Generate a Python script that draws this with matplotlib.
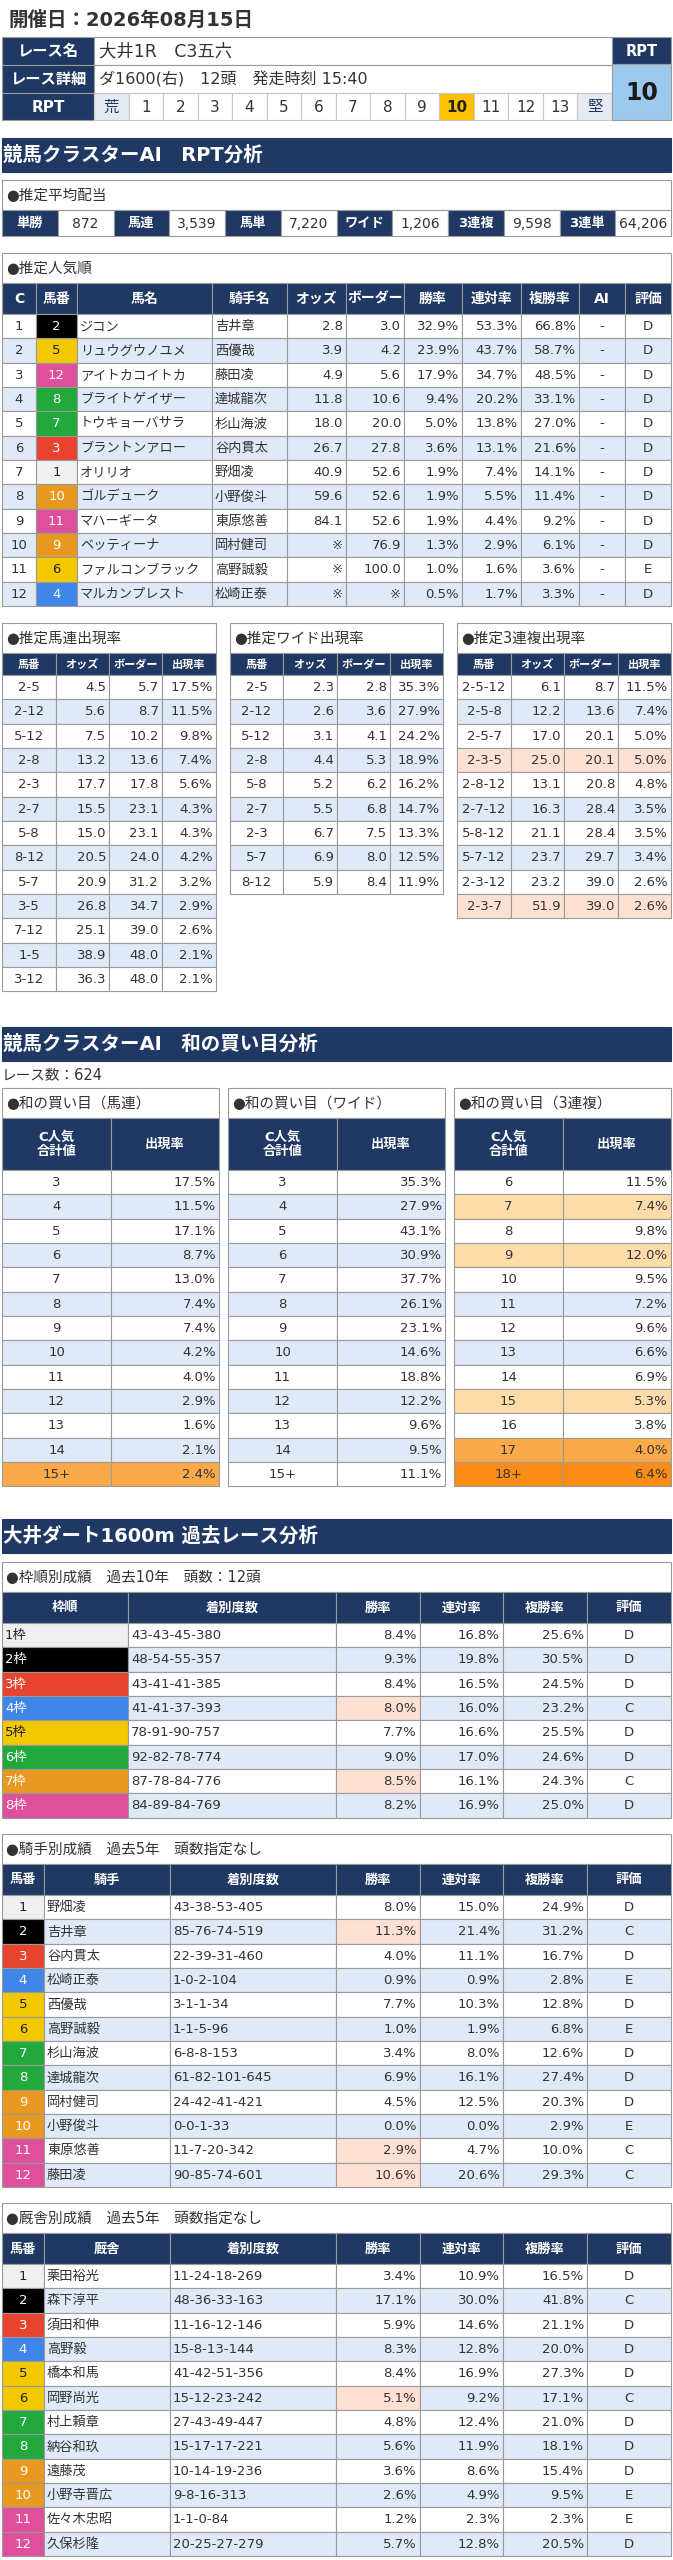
"""
競馬クラスターAI 出走表レポート（大井1R）を matplotlib で再現する。
"""

import matplotlib

matplotlib.use("Agg")
import matplotlib.pyplot as plt
from matplotlib.patches import Rectangle

# 英数字は DejaVu（Verdana 風）、かなと漢字は Noto CJK にまかせる
plt.rcParams["font.family"] = ["DejaVu Sans", "Noto Sans CJK JP"]

# ---------------------------------------------------------------- データ
RACE_DATE = "開催日：2026年08月15日"
RACE_NAME = "大井1R　C3五六"
RACE_DETAIL = "ダ1600(右)　12頭　発走時刻 15:40"
RPT_SCALE = ["荒", "1", "2", "3", "4", "5", "6", "7", "8", "9", "10", "11", "12", "13", "堅"]
RPT_VALUE = 10

PAYOUT_LABELS = ["単勝", "馬連", "馬単", "ワイド", "3連複", "3連単"]
PAYOUT_VALUES = ["872", "3,539", "7,220", "1,206", "9,598", "64,206"]

POP_RANK = list(range(1, 13))
POP_NUM = [2, 5, 12, 8, 7, 3, 1, 10, 11, 9, 6, 4]
POP_HORSE = ["ジコン", "リュウグウノユメ", "アイトカコイトカ", "ブライトゲイザー",
             "トウキョーバサラ", "ブラントンアロー", "オリリオ", "ゴルデューク",
             "マハーギータ", "ベッティーナ", "ファルコンブラック", "マルカンプレスト"]
POP_JOCKEY = ["吉井章", "西優哉", "藤田凌", "達城龍次", "杉山海波", "谷内貫太",
              "野畑凌", "小野俊斗", "東原悠善", "岡村健司", "高野誠毅", "松崎正泰"]
POP_ODDS = ["2.8", "3.9", "4.9", "11.8", "18.0", "26.7", "40.9", "59.6", "84.1", "※", "※", "※"]
POP_BORDER = ["3.0", "4.2", "5.6", "10.6", "20.0", "27.8", "52.6", "52.6", "52.6", "76.9", "100.0", "※"]
POP_WIN = [32.9, 23.9, 17.9, 9.4, 5.0, 3.6, 1.9, 1.9, 1.9, 1.3, 1.0, 0.5]
POP_REN = [53.3, 43.7, 34.7, 20.2, 13.8, 13.1, 7.4, 5.5, 4.4, 2.9, 1.6, 1.7]
POP_FUKU = [66.8, 58.7, 48.5, 33.1, 27.0, 21.6, 14.1, 11.4, 9.2, 6.1, 3.6, 3.3]
POP_GRADE = ["D"] * 10 + ["E", "D"]

UMAREN_KEY = ["2-5", "2-12", "5-12", "2-8", "2-3", "2-7", "5-8", "8-12", "5-7", "3-5", "7-12", "1-5", "3-12"]
UMAREN_ODDS = [4.5, 5.6, 7.5, 13.2, 17.7, 15.5, 15.0, 20.5, 20.9, 26.8, 25.1, 38.9, 36.3]
UMAREN_BORDER = [5.7, 8.7, 10.2, 13.6, 17.8, 23.1, 23.1, 24.0, 31.2, 34.7, 39.0, 48.0, 48.0]
UMAREN_RATE = [17.5, 11.5, 9.8, 7.4, 5.6, 4.3, 4.3, 4.2, 3.2, 2.9, 2.6, 2.1, 2.1]

WIDE_KEY = ["2-5", "2-12", "5-12", "2-8", "5-8", "2-7", "2-3", "5-7", "8-12"]
WIDE_ODDS = [2.3, 2.6, 3.1, 4.4, 5.2, 5.5, 6.7, 6.9, 5.9]
WIDE_BORDER = [2.8, 3.6, 4.1, 5.3, 6.2, 6.8, 7.5, 8.0, 8.4]
WIDE_RATE = [35.3, 27.9, 24.2, 18.9, 16.2, 14.7, 13.3, 12.5, 11.9]

SANREN_KEY = ["2-5-12", "2-5-8", "2-5-7", "2-3-5", "2-8-12", "2-7-12", "5-8-12", "5-7-12", "2-3-12", "2-3-7"]
SANREN_ODDS = [6.1, 12.2, 17.0, 25.0, 13.1, 16.3, 21.1, 23.7, 23.2, 51.9]
SANREN_BORDER = [8.7, 13.6, 20.1, 20.1, 20.8, 28.4, 28.4, 29.7, 39.0, 39.0]
SANREN_RATE = [11.5, 7.4, 5.0, 5.0, 4.8, 3.5, 3.5, 3.4, 2.6, 2.6]
SANREN_MARK = [0, 0, 0, 1, 0, 0, 0, 0, 0, 1]

RACE_COUNT = 624
WA_UMAREN_SUM = ["3", "4", "5", "6", "7", "8", "9", "10", "11", "12", "13", "14", "15+"]
WA_UMAREN_RATE = [17.5, 11.5, 17.1, 8.7, 13.0, 7.4, 7.4, 4.2, 4.0, 2.9, 1.6, 2.1, 2.4]
WA_UMAREN_LV = [0] * 12 + [2]
WA_WIDE_SUM = ["3", "4", "5", "6", "7", "8", "9", "10", "11", "12", "13", "14", "15+"]
WA_WIDE_RATE = [35.3, 27.9, 43.1, 30.9, 37.7, 26.1, 23.1, 14.6, 18.8, 12.2, 9.6, 9.5, 11.1]
WA_WIDE_LV = [0] * 13
WA_SANREN_SUM = ["6", "7", "8", "9", "10", "11", "12", "13", "14", "15", "16", "17", "18+"]
WA_SANREN_RATE = [11.5, 7.4, 9.8, 12.0, 9.5, 7.2, 9.6, 6.6, 6.9, 5.3, 3.8, 4.0, 6.4]
WA_SANREN_LV = [0, 1, 0, 1, 0, 0, 0, 0, 0, 1, 0, 2, 3]

FRAME_LABEL = ["1枠", "2枠", "3枠", "4枠", "5枠", "6枠", "7枠", "8枠"]
FRAME_REC = ["43-43-45-380", "48-54-55-357", "43-41-41-385", "41-41-37-393",
             "78-91-90-757", "92-82-78-774", "87-78-84-776", "84-89-84-769"]
FRAME_WIN = [8.4, 9.3, 8.4, 8.0, 7.7, 9.0, 8.5, 8.2]
FRAME_REN = [16.8, 19.8, 16.5, 16.0, 16.6, 17.0, 16.1, 16.9]
FRAME_FUKU = [25.6, 30.5, 24.5, 23.2, 25.5, 24.6, 24.3, 25.0]
FRAME_GRADE = ["D", "D", "D", "C", "D", "D", "C", "D"]
FRAME_MARK = [0, 0, 0, 1, 0, 0, 1, 0]

JOCKEY = ["野畑凌", "吉井章", "谷内貫太", "松崎正泰", "西優哉", "高野誠毅",
          "杉山海波", "達城龍次", "岡村健司", "小野俊斗", "東原悠善", "藤田凌"]
JOCKEY_REC = ["43-38-53-405", "85-76-74-519", "22-39-31-460", "1-0-2-104", "3-1-1-34",
              "1-1-5-96", "6-8-8-153", "61-82-101-645", "24-42-41-421", "0-0-1-33",
              "11-7-20-342", "90-85-74-601"]
JOCKEY_WIN = [8.0, 11.3, 4.0, 0.9, 7.7, 1.0, 3.4, 6.9, 4.5, 0.0, 2.9, 10.6]
JOCKEY_REN = [15.0, 21.4, 11.1, 0.9, 10.3, 1.9, 8.0, 16.1, 12.5, 0.0, 4.7, 20.6]
JOCKEY_FUKU = [24.9, 31.2, 16.7, 2.8, 12.8, 6.8, 12.6, 27.4, 20.3, 2.9, 10.0, 29.3]
JOCKEY_GRADE = ["D", "C", "D", "E", "D", "E", "D", "D", "D", "E", "C", "C"]
JOCKEY_MARK = [0, 1, 0, 0, 0, 0, 0, 0, 0, 0, 1, 1]

TRAINER = ["栗田裕光", "森下淳平", "須田和伸", "高野毅", "橋本和馬", "岡野尚光",
           "村上頼章", "納谷和玖", "遠藤茂", "小野寺晋広", "佐々木忠昭", "久保杉隆"]
TRAINER_REC = ["11-24-18-269", "48-36-33-163", "11-16-12-146", "15-8-13-144", "41-42-51-356",
               "15-12-23-242", "27-43-49-447", "15-17-17-221", "10-14-19-236", "9-8-16-313",
               "1-1-0-84", "20-25-27-279"]
TRAINER_WIN = [3.4, 17.1, 5.9, 8.3, 8.4, 5.1, 4.8, 5.6, 3.6, 2.6, 1.2, 5.7]
TRAINER_REN = [10.9, 30.0, 14.6, 12.8, 16.9, 9.2, 12.4, 11.9, 8.6, 4.9, 2.3, 12.8]
TRAINER_FUKU = [16.5, 41.8, 21.1, 20.0, 27.3, 17.1, 21.0, 18.1, 15.4, 9.5, 2.3, 20.5]
TRAINER_GRADE = ["D", "C", "D", "D", "D", "C", "D", "D", "D", "E", "E", "D"]
TRAINER_MARK = [0, 0, 0, 0, 0, 1, 0, 0, 0, 0, 0, 0]

# ---------------------------------------------------------------- スタイル
W, H = 673, 2560
NAVY = "#1f3864"
ALT = "#dfe9f8"
GRID = "#9a9a9a"
TXT = "#333333"
SALMON = "#fde0d4"
WA_FC = {0: None, 1: "#fddcaa", 2: "#fbaa4a", 3: "#fb8c15"}
FRAME_FC = {1: "#f0f0f0", 2: "#000000", 3: "#e8432f", 4: "#3f86e8",
            5: "#f2c800", 6: "#22a83c", 7: "#e8981e", 8: "#e0509a"}
FRAME_TC = {1: "#222222", 2: "#ffffff", 3: "#ffffff", 4: "#ffffff",
            5: "#222222", 6: "#ffffff", 7: "#ffffff", 8: "#ffffff"}
ROW_H = 24.33
FS = 9.5


def frame_of(num):
    return num if num <= 4 else 5 + (num - 5) // 2


fig = plt.figure(figsize=(W / 100, H / 100), dpi=100)
ax = fig.add_axes([0, 0, 1, 1])
ax.set_xlim(0, W)
ax.set_ylim(H, 0)
ax.axis("off")


def box(x0, y0, x1, y1, fc, ec=GRID, lw=0.8):
    ax.add_patch(Rectangle((x0, y0), x1 - x0, y1 - y0, facecolor=fc,
                           edgecolor=ec, linewidth=lw))


def put(x0, x1, yc, s, ha="center", color=TXT, size=FS, weight="normal", pad=3):
    x = {"left": x0 + pad, "right": x1 - pad, "center": (x0 + x1) / 2}[ha]
    ax.text(x, yc + 0.5, s, ha=ha, va="center", color=color, fontsize=size,
            fontweight=weight)


def section_bar(y0, y1, title):
    box(2, y0, 671, y1, NAVY, ec=NAVY)
    put(2, 671, (y0 + y1) / 2, title, ha="left", color="white", size=14,
        weight="bold", pad=1)


def table(xs, top, title, headers, rows, aligns, head_h, title_h=30,
          fills=None, tcolors=None, head_fs=9.5, body_fs=FS):
    """xs: 列境界, rows: 文字列の行リスト, fills/tcolors: (r, c) -> 色 or None"""
    box(xs[0], top, xs[-1], top + title_h, "white")
    put(xs[0], xs[-1], top + title_h / 2, title, ha="left", size=10.5, pad=4)
    hy = top + title_h
    for c, h in enumerate(headers):
        box(xs[c], hy, xs[c + 1], hy + head_h, NAVY, ec=GRID)
        put(xs[c], xs[c + 1], hy + head_h / 2, h, color="white", size=head_fs,
            weight="bold")
    y = hy + head_h
    for r, row in enumerate(rows):
        base = "white" if r % 2 == 0 else ALT
        for c, s in enumerate(row):
            fc = fills(r, c) if fills else None
            tc = tcolors(r, c) if tcolors else None
            box(xs[c], y, xs[c + 1], y + ROW_H, fc or base)
            put(xs[c], xs[c + 1], y + ROW_H / 2, s, ha=aligns[c],
                color=tc or TXT, size=body_fs)
        y += ROW_H


def pct(v):
    return f"{v:.1f}%"


# ---------------------------------------------------------------- ヘッダー
put(0, W, 20, RACE_DATE, ha="left", size=14, weight="bold", pad=8)

for y0, y1, lab in [(37, 65, "レース名"), (65, 93, "レース詳細"), (93, 120, "RPT")]:
    box(2, y0, 94, y1, NAVY)
    put(2, 94, (y0 + y1) / 2, lab, color="white", size=11, weight="bold")
box(94, 37, 612, 65, "white")
box(94, 65, 612, 93, "white")
put(94, 612, 51, RACE_NAME, ha="left", size=12.5, pad=5)
put(94, 612, 79, RACE_DETAIL, ha="left", size=11.5, pad=5)

cw = (612 - 94) / len(RPT_SCALE)
for i, s in enumerate(RPT_SCALE):
    x0 = 94 + i * cw
    if s in ("荒", "堅"):
        fc, tc, wt = "#e4e9f2", NAVY, "normal"
    elif s == str(RPT_VALUE):
        fc, tc, wt = "#ffc000", "#222222", "bold"
    else:
        fc, tc, wt = "white", TXT, "normal"
    box(x0, 93, x0 + cw, 120, fc, ec="#c8c8c8")
    put(x0, x0 + cw, 106.5, s, color=tc, size=11, weight=wt)

box(612, 37, 671, 64, NAVY)
put(612, 671, 50.5, "RPT", color="white", size=10.5, weight="bold")
box(612, 64, 671, 120, "#9dc8ee")
put(612, 671, 92, str(RPT_VALUE), color="#1a1a1a", size=17, weight="bold")

# ---------------------------------------------------------------- RPT分析
section_bar(138, 172, "競馬クラスターAI　RPT分析")

box(2, 180, 671, 210, "white")
put(2, 671, 195, "●推定平均配当", ha="left", size=10.5, pad=4)
pw = (671 - 2) / (2 * len(PAYOUT_LABELS))
for i, (lab, val) in enumerate(zip(PAYOUT_LABELS, PAYOUT_VALUES)):
    x0 = 2 + 2 * i * pw
    box(x0, 210, x0 + pw, 236, NAVY)
    put(x0, x0 + pw, 223, lab, color="white", size=9.5, weight="bold")
    box(x0 + pw, 210, x0 + 2 * pw, 236, "white")
    put(x0 + pw, x0 + 2 * pw, 223, val, size=10)

pop_rows = [[str(POP_RANK[i]), str(POP_NUM[i]), POP_HORSE[i], POP_JOCKEY[i],
             POP_ODDS[i], POP_BORDER[i], pct(POP_WIN[i]), pct(POP_REN[i]),
             pct(POP_FUKU[i]), "-", POP_GRADE[i]] for i in range(len(POP_RANK))]
table([2, 36, 77, 212, 287, 346, 404, 462, 521, 579, 625, 671], 253,
      "●推定人気順",
      ["C", "馬番", "馬名", "騎手名", "オッズ", "ボーダー", "勝率", "連対率", "複勝率", "AI", "評価"],
      pop_rows,
      ["center", "center", "left", "left", "right", "right", "right", "right",
       "right", "center", "center"], 31, head_fs=10,
      fills=lambda r, c: FRAME_FC[frame_of(POP_NUM[r])] if c == 1 else None,
      tcolors=lambda r, c: FRAME_TC[frame_of(POP_NUM[r])] if c == 1 else None)

small_head = ["馬番", "オッズ", "ボーダー", "出現率"]
small_align = ["center", "right", "right", "right"]
table([2, 56, 109, 162, 216], 623, "●推定馬連出現率", small_head,
      [[k, f"{o:.1f}", f"{b:.1f}", pct(p)] for k, o, b, p in
       zip(UMAREN_KEY, UMAREN_ODDS, UMAREN_BORDER, UMAREN_RATE)],
      small_align, 22, head_fs=8)
table([230, 283, 337, 390, 443], 623, "●推定ワイド出現率", small_head,
      [[k, f"{o:.1f}", f"{b:.1f}", pct(p)] for k, o, b, p in
       zip(WIDE_KEY, WIDE_ODDS, WIDE_BORDER, WIDE_RATE)],
      small_align, 22, head_fs=8)
table([457, 511, 564, 618, 671], 623, "●推定3連複出現率", small_head,
      [[k, f"{o:.1f}", f"{b:.1f}", pct(p)] for k, o, b, p in
       zip(SANREN_KEY, SANREN_ODDS, SANREN_BORDER, SANREN_RATE)],
      small_align, 22, head_fs=8,
      fills=lambda r, c: SALMON if SANREN_MARK[r] else None)

# ---------------------------------------------------------------- 和の買い目
section_bar(1027, 1061, "競馬クラスターAI　和の買い目分析")
put(0, W, 1074, f"レース数：{RACE_COUNT}", ha="left", size=10.5, pad=2)

wa_sets = [
    ([2, 111, 219], "●和の買い目（馬連）", WA_UMAREN_SUM, WA_UMAREN_RATE, WA_UMAREN_LV),
    ([228, 337, 445], "●和の買い目（ワイド）", WA_WIDE_SUM, WA_WIDE_RATE, WA_WIDE_LV),
    ([454, 563, 671], "●和の買い目（3連複）", WA_SANREN_SUM, WA_SANREN_RATE, WA_SANREN_LV),
]
for xs, ttl, sums, rates, lv in wa_sets:
    table(xs, 1088, ttl, ["C人気\n合計値", "出現率"],
          [[s, pct(v)] for s, v in zip(sums, rates)], ["center", "right"], 52,
          head_fs=9.5, fills=lambda r, c, lv=lv: WA_FC[lv[r]])

# ---------------------------------------------------------------- 過去レース分析
section_bar(1519, 1553, "大井ダート1600m 過去レース分析")

stat_head = ["着別度数", "勝率", "連対率", "複勝率", "評価"]
table([2, 128, 336, 420, 503, 587, 671], 1562, "●枠順別成績　過去10年　頭数：12頭",
      ["枠順"] + stat_head,
      [[FRAME_LABEL[i], FRAME_REC[i], pct(FRAME_WIN[i]), pct(FRAME_REN[i]),
        pct(FRAME_FUKU[i]), FRAME_GRADE[i]] for i in range(len(FRAME_LABEL))],
      ["left", "left", "right", "right", "right", "center"], 31,
      fills=lambda r, c: FRAME_FC[r + 1] if c == 0 else (
          SALMON if c == 2 and FRAME_MARK[r] else None),
      tcolors=lambda r, c: FRAME_TC[r + 1] if c == 0 else None)

for top, ttl, col, names, rec, win, ren, fuku, grade, mark in [
        (1834, "●騎手別成績　過去5年　頭数指定なし", "騎手", JOCKEY, JOCKEY_REC,
         JOCKEY_WIN, JOCKEY_REN, JOCKEY_FUKU, JOCKEY_GRADE, JOCKEY_MARK),
        (2203, "●厩舎別成績　過去5年　頭数指定なし", "厩舎", TRAINER, TRAINER_REC,
         TRAINER_WIN, TRAINER_REN, TRAINER_FUKU, TRAINER_GRADE, TRAINER_MARK)]:
    table([2, 44, 170, 336, 420, 503, 587, 671], top, ttl,
          ["馬番", col] + stat_head,
          [[str(i + 1), names[i], rec[i], pct(win[i]), pct(ren[i]), pct(fuku[i]),
            grade[i]] for i in range(len(names))],
          ["center", "left", "left", "right", "right", "right", "center"], 31,
          fills=lambda r, c, m=mark: FRAME_FC[frame_of(r + 1)] if c == 0 else (
              SALMON if c == 3 and m[r] else None),
          tcolors=lambda r, c: FRAME_TC[frame_of(r + 1)] if c == 0 else None)

fig.savefig("out.png", dpi=100)
